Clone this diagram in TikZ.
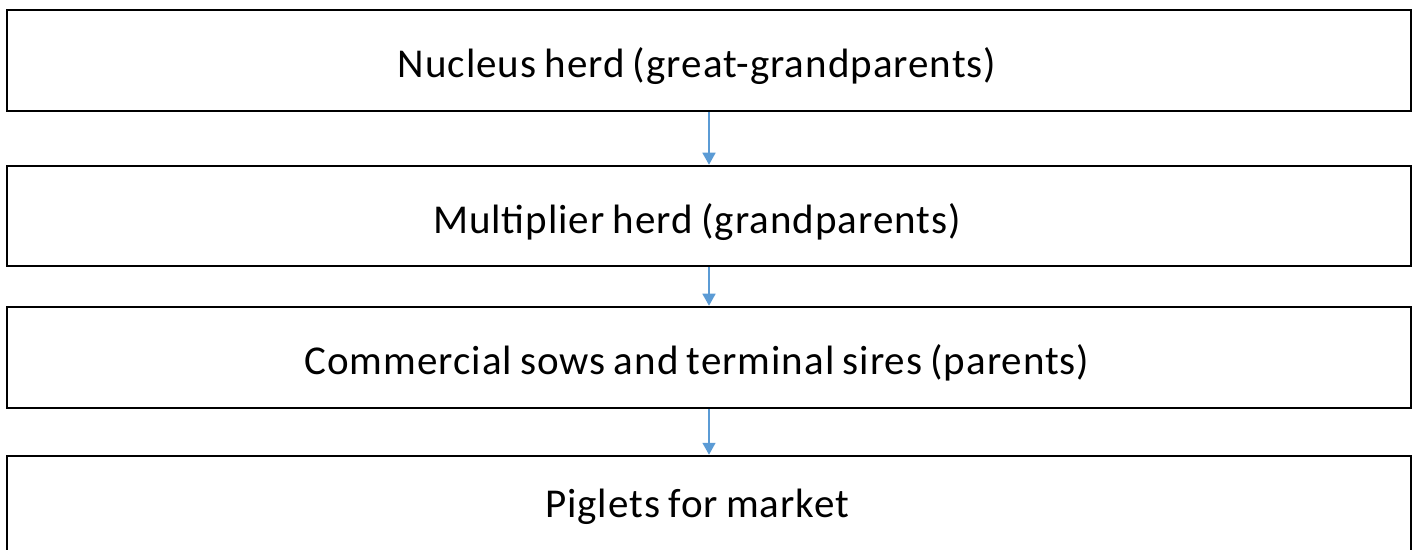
\documentclass[tikz,border=0pt]{standalone}
\usepackage{fontspec}
\setmainfont{Carlito}[LetterSpace=2.4, WordSpace=0.8]
\usetikzlibrary{arrows.meta,positioning}
\definecolor{arrowblue}{RGB}{91,155,213}

\begin{document}
\begin{tikzpicture}[x=1pt, y=1pt]
\tikzstyle{level} = [draw=black, line width=2.5pt, rectangle, minimum width=1404pt, inner sep=0pt, text height=35pt, text depth=0pt, execute at end node={\hspace{24pt}}, font=\fontsize{41}{49}\selectfont]
\tikzset{flow/.style={-{Triangle[width=13pt,length=12pt]}, draw=arrowblue, line width=1.5pt}}
\useasboundingbox (0,0) rectangle (1413,549);
\node[level, minimum height=101pt] (nucleus) at (709,488.5) {Nucleus herd (great-grandparents)};
\node[level, minimum height=100pt] (multiplier) at (709,333) {Multiplier herd (grandparents)};
\node[level, minimum height=101pt] (commercial) at (709,191.5) {Commercial sows and terminal sires (parents)};
\node[level, minimum height=101pt, text height=21pt] (piglets) at (709,42.5) {Piglets for market};
\foreach \from/\to in {nucleus/multiplier, multiplier/commercial, commercial/piglets}
\draw[flow] (\from) -- (\to);
\end{tikzpicture}
\end{document}
